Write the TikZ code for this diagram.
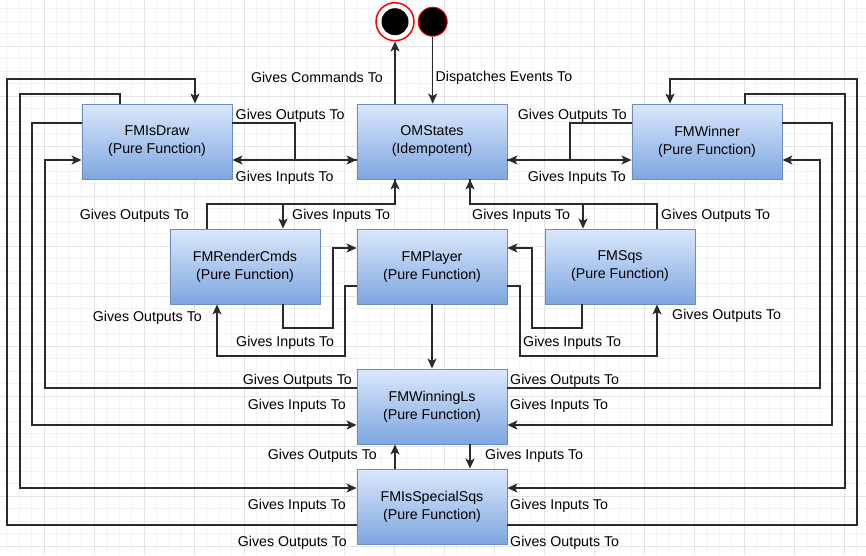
\documentclass[tikz,border=0pt]{standalone}
\usepackage{fontspec}
\setmainfont{Liberation Sans}
\usetikzlibrary{arrows.meta,calc}
\definecolor{boxtop}{HTML}{DAE8FC}
\definecolor{boxbot}{HTML}{7EA6E0}
\definecolor{boxline}{HTML}{6C8EBF}
\definecolor{gridminor}{HTML}{F3F3F3}
\definecolor{gridmajor}{HTML}{E4E4E4}
\definecolor{wire}{HTML}{2A2A2A}
\definecolor{ringred}{HTML}{FF0000}
\tikzset{
  fbox/.style={rectangle, minimum width=150pt, minimum height=75pt, inner sep=0pt,
    top color=boxtop, bottom color=boxbot, draw=boxline, line width=0.9pt,
    align=center, font=\fontsize{14.2}{18}\selectfont},
  lbl/.style={inner sep=0pt, yshift=-1.5pt, font=\fontsize{14.2}{17}\selectfont},
  wirel/.style={draw=wire, line width=1.3pt},
  arr/.style={wirel, -{Stealth[length=10pt,width=9pt,inset=2.5pt]}},
}
\begin{document}
\begin{tikzpicture}[x=1pt,y=-1pt]
\useasboundingbox (0,0) rectangle (866,555);
\fill[white] (0,0) rectangle (866,555);
% grid
\foreach \i in {0,...,68} {
  \pgfmathsetmacro{\gx}{6.8+12.5*\i}
  \draw[gridminor, line width=0.8pt] (\gx,0) -- (\gx,555);
}
\foreach \j in {0,...,43} {
  \pgfmathsetmacro{\gy}{8.5+12.5*\j}
  \draw[gridminor, line width=0.8pt] (0,\gy) -- (866,\gy);
}
\foreach \i in {0,...,16} {
  \pgfmathsetmacro{\gx}{44.3+50*\i}
  \draw[gridmajor, line width=0.9pt] (\gx,0) -- (\gx,555);
}
\foreach \j in {0,...,10} {
  \pgfmathsetmacro{\gy}{46+50*\j}
  \draw[gridmajor, line width=0.9pt] (0,\gy) -- (866,\gy);
}

% nodes
\node[fbox] (isdraw) at (157,141.5) {FMIsDraw\\(Pure Function)};
\node[fbox] (omstates) at (432,141.5) {OMStates\\(Idempotent)};
\node[fbox] (winner) at (707,141.5) {FMWinner\\(Pure Function)};
\node[fbox] (render) at (245,266.5) {FMRenderCmds\\(Pure Function)};
\node[fbox] (player) at (432,266.5) {FMPlayer\\(Pure Function)};
\node[fbox] (sqs) at (620,266.5) {FMSqs\\(Pure Function)};
\node[fbox] (winls) at (432,406.5) {FMWinningLs\\(Pure Function)};
\node[fbox] (special) at (432,506.5) {FMIsSpecialSqs\\(Pure Function)};

\node[circle, draw=ringred, line width=1.5pt, fill=white, minimum size=38pt, inner sep=0pt] (endst) at (395,21.7) {};
\fill[black] (endst.center) circle (13.5);
\node[circle, draw=ringred, line width=1pt, fill=black, minimum size=29pt, inner sep=0pt] (startst) at (432.7,21.7) {};

% top
\draw[arr] (endst.south |- omstates.north) -- (endst.south);
\draw[arr] (startst.south) -- (startst.south |- omstates.north);

% IsDraw <-> OMStates
\draw[arr] (isdraw.east |- 0,123) -| (295,160) -- (omstates.west |- 0,160);
\draw[arr] (omstates.west |- 0,160) -- (isdraw.east |- 0,160);
% Winner <-> OMStates
\draw[arr] (winner.west |- 0,123) -| (570,160) -- (omstates.east |- 0,160);
\draw[arr] (omstates.east |- 0,160) -- (winner.west |- 0,160);
% RenderCmds <-> OMStates
\draw[arr] (render.north -| 207,0) |- (395,204) -- (omstates.south -| 395,0);
\draw[arr] (omstates.south -| 395,0) |- (283,204) -- (render.north -| 283,0);
% Sqs <-> OMStates
\draw[arr] (omstates.south -| 470,0) |- (583,204) -- (sqs.north -| 583,0);
\draw[arr] (sqs.north -| 657,0) |- (470,204) -- (omstates.south -| 470,0);
% RenderCmds <-> Player
\draw[arr] (render.south -| 283,0) |- (333,328) |- (player.west |- 0,248);
\draw[arr] (player.west |- 0,286) -| (345,356) -| (render.south -| 217,0);
% Sqs <-> Player
\draw[arr] (sqs.south -| 582,0) |- (532,328) |- (player.east |- 0,248);
\draw[arr] (player.east |- 0,286) -| (520,356) -| (sqs.south -| 657,0);
% Player -> WinningLs
\draw[arr] (player.south) -- (winls.north);
% WinningLs <-> SpecialSqs
\draw[arr] (special.north -| 395,0) -- (winls.south -| 395,0);
\draw[arr] (winls.south -| 470,0) -- (special.north -| 470,0);
% left long connectors
\draw[arr] (special.west |- 0,525) -| (7,79) -| (isdraw.north -| 195,0);
\draw[arr] (isdraw.north -| 120,0) |- (20,94) |- (special.west |- 0,488);
\draw[arr] (isdraw.west |- 0,123) -| (32,425) -- (winls.west |- 0,425);
\draw[arr] (winls.west |- 0,388) -| (45,160) -- (isdraw.west |- 0,160);
% right long connectors
\draw[arr] (special.east |- 0,525) -| (857,79) -| (winner.north -| 670,0);
\draw[arr] (winner.north -| 745,0) |- (845,94) |- (special.east |- 0,488);
\draw[arr] (winner.east |- 0,123) -| (832,425) -- (winls.east |- 0,425);
\draw[arr] (winls.east |- 0,388) -| (820,160) -- (winner.east |- 0,160);

% labels
\node[lbl, anchor=east] (l1) at (383,76) {Gives Commands To};
\node[lbl, anchor=west] (l2) at (435.5,76) {Dispatches Events To};
\node[lbl, anchor=west] (l3) at (235.5,114) {Gives Outputs To};
\node[lbl, anchor=west] (l4) at (235.5,176) {Gives Inputs To};
\node[lbl, anchor=east] (l5) at (627,114) {Gives Outputs To};
\node[lbl, anchor=east] (l6) at (626,176) {Gives Inputs To};
\node[lbl, anchor=east] (l7) at (189,214) {Gives Outputs To};
\node[lbl, anchor=west] (l8) at (292,214) {Gives Inputs To};
\node[lbl, anchor=west] (l9) at (472,214) {Gives Inputs To};
\node[lbl, anchor=west] (l10) at (661,214) {Gives Outputs To};
\node[lbl, anchor=east] (l11) at (202,316) {Gives Outputs To};
\node[lbl, anchor=west] (l12) at (236,341) {Gives Inputs To};
\node[lbl, anchor=west] (l13) at (672,314) {Gives Outputs To};
\node[lbl, anchor=west] (l14) at (523,341) {Gives Inputs To};
\node[lbl, anchor=east] (l15) at (352,379) {Gives Outputs To};
\node[lbl, anchor=east] (l16) at (346,404) {Gives Inputs To};
\node[lbl, anchor=east] (l17) at (377,454) {Gives Outputs To};
\node[lbl, anchor=east] (l18) at (346,504) {Gives Inputs To};
\node[lbl, anchor=east] (l19) at (347,541) {Gives Outputs To};
\node[lbl, anchor=west] (l20) at (510,379) {Gives Outputs To};
\node[lbl, anchor=west] (l21) at (510,404) {Gives Inputs To};
\node[lbl, anchor=west] (l22) at (485,454) {Gives Inputs To};
\node[lbl, anchor=west] (l23) at (510,504) {Gives Inputs To};
\node[lbl, anchor=west] (l24) at (510,541) {Gives Outputs To};
\end{tikzpicture}
\end{document}
